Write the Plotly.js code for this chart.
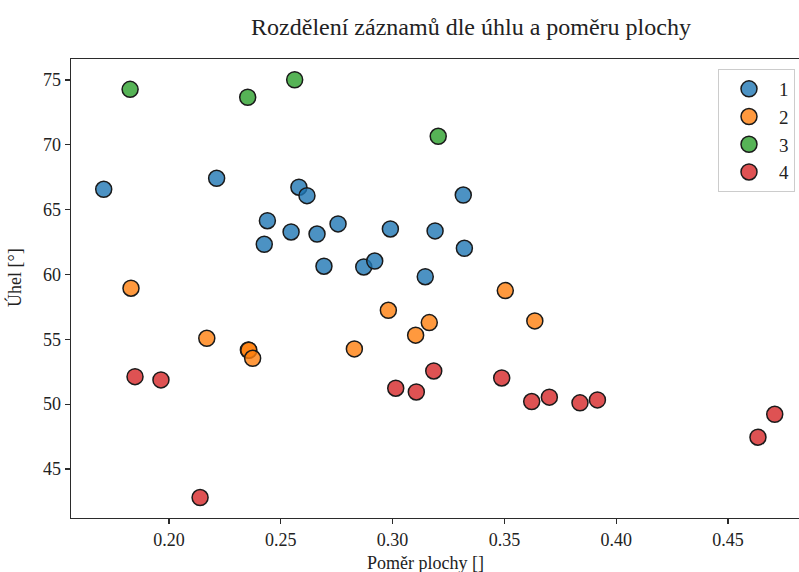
<!DOCTYPE html>
<html>
<head>
<meta charset="utf-8">
<script src="https://cdn.plot.ly/plotly-3.0.1.min.js"></script>
<style>html,body{margin:0;padding:0;background:#fff;overflow:hidden;}</style>
</head>
<body>
<div id="chart" style="width:799px;height:572px;"></div>
<script>
// Data
const seriesNames = ["1", "2", "3", "4"];
const seriesColors = ["rgba(31,119,180,0.8)", "rgba(255,127,14,0.8)", "rgba(44,160,44,0.8)", "rgba(214,39,40,0.8)"];

const x1 = [0.1708, 0.2213, 0.2581, 0.2617, 0.2440, 0.2426, 0.2546, 0.2662, 0.2756, 0.2693, 0.2871, 0.2920, 0.2990, 0.3190, 0.3146, 0.3316, 0.3321];
const y1 = [66.57, 67.42, 66.73, 66.08, 64.15, 62.33, 63.28, 63.12, 63.90, 60.64, 60.58, 61.04, 63.51, 63.36, 59.83, 66.13, 62.02];

const x2 = [0.1830, 0.2169, 0.2355, 0.2357, 0.2374, 0.2829, 0.2981, 0.3103, 0.3164, 0.3504, 0.3636];
const y2 = [58.94, 55.08, 54.18, 54.16, 53.54, 54.26, 57.24, 55.32, 56.29, 58.76, 56.42];

const x3 = [0.1826, 0.2352, 0.2562, 0.3204];
const y3 = [74.28, 73.67, 75.02, 70.66];

const x4 = [0.1848, 0.1964, 0.2139, 0.3014, 0.3106, 0.3184, 0.3488, 0.3622, 0.3701, 0.3838, 0.3916, 0.4634, 0.4709];
const y4 = [52.12, 51.87, 42.80, 51.23, 50.94, 52.56, 52.02, 50.20, 50.54, 50.10, 50.33, 47.45, 49.22];

const xTicks = [0.20, 0.25, 0.30, 0.35, 0.40, 0.45];
const xTickLabels = ["0.20", "0.25", "0.30", "0.35", "0.40", "0.45"];
const yTicks = [45, 50, 55, 60, 65, 70, 75];
const yTickLabels = ["45", "50", "55", "60", "65", "70", "75"];

const xs = [x1, x2, x3, x4];
const ys = [y1, y2, y3, y4];

const FONT = "'Liberation Serif', 'DejaVu Serif', serif";

const traces = seriesNames.map((name, i) => ({
  type: "scatter",
  mode: "markers",
  name: name,
  x: xs[i],
  y: ys[i],
  marker: {
    size: 16,
    color: seriesColors[i],
    line: { color: "#1a1a1a", width: 1.5 }
  },
  hoverinfo: "x+y+name"
}));

const layout = {
  width: 799,
  height: 572,
  margin: { l: 71, r: 0, t: 59, b: 54, pad: 0 },
  paper_bgcolor: "#ffffff",
  plot_bgcolor: "#ffffff",
  font: { family: FONT, size: 18, color: "#222" },
  title: {
    text: "Rozdělení záznamů dle úhlu a poměru plochy",
    font: { family: FONT, size: 24, color: "#222" },
    xref: "container", yref: "container",
    x: 471 / 799, xanchor: "center",
    y: 1 - 27 / 572, yanchor: "middle"
  },
  xaxis: {
    range: [0.15617, 0.48175],
    tickvals: xTicks,
    ticktext: xTickLabels,
    showgrid: false,
    zeroline: false,
    showline: true,
    mirror: true,
    linecolor: "#2b2b2b",
    linewidth: 1.3,
    ticks: "outside",
    ticklen: 5,
    tickwidth: 1.2,
    tickcolor: "#2b2b2b",
    tickfont: { family: FONT, size: 18, color: "#222" }
  },
  yaxis: {
    range: [41.22, 76.62],
    tickvals: yTicks,
    ticktext: yTickLabels,
    showgrid: false,
    zeroline: false,
    showline: true,
    linecolor: "#2b2b2b",
    linewidth: 1.3,
    ticks: "outside",
    ticklen: 5,
    tickwidth: 1.2,
    tickcolor: "#2b2b2b",
    tickfont: { family: FONT, size: 18, color: "#222" }
  },
  legend: {
    x: (718 - 71) / 728, xanchor: "left",
    y: (518 - 69) / 459, yanchor: "top",
    bgcolor: "rgba(255,255,255,0.8)",
    bordercolor: "#cccccc",
    borderwidth: 1,
    font: { family: FONT, size: 19, color: "#222" },
    itemsizing: "trace",
    itemwidth: 50
  },
  annotations: [
    {
      text: "Poměr plochy []",
      xref: "paper", yref: "paper",
      x: (425 - 71) / 728, xanchor: "center",
      y: -(563 - 518) / 459, yanchor: "middle",
      showarrow: false,
      font: { family: FONT, size: 18, color: "#222" }
    },
    {
      text: "Úhel [°]",
      xref: "paper", yref: "paper",
      x: -(71 - 14) / 728, xanchor: "center",
      y: (518 - 278) / 459, yanchor: "middle",
      textangle: -90,
      showarrow: false,
      font: { family: FONT, size: 18, color: "#222" }
    }
  ]
};

Plotly.newPlot("chart", traces, layout, { displayModeBar: false, staticPlot: true });
</script>
</body>
</html>
